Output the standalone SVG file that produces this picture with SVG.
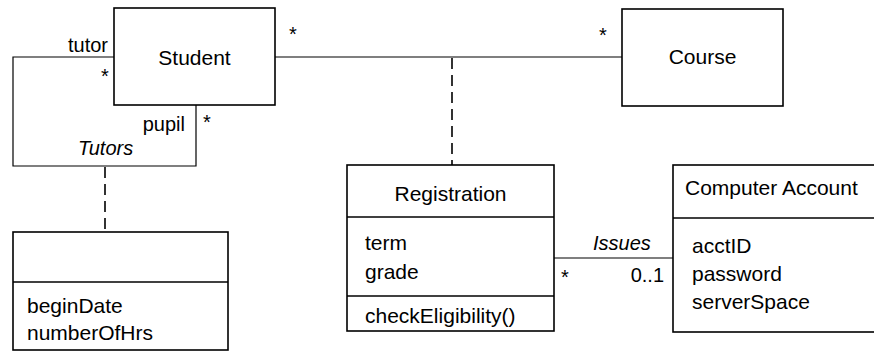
<svg xmlns="http://www.w3.org/2000/svg" width="874" height="362" viewBox="0 0 874 362">
<style>
.box{fill:#fff;stroke:#000;stroke-width:1.6}
.div{stroke:#000;stroke-width:1.3}
.ln{fill:none;stroke:#000;stroke-width:1.2}
.dash{fill:none;stroke:#000;stroke-width:1.6;stroke-dasharray:11 6}
text{font-family:"Liberation Sans",Arial,sans-serif;font-size:21px;fill:#000}
.lbl{font-size:20px}
.it{font-style:italic;font-size:20px}
.mid{text-anchor:middle}
.end{text-anchor:end}
</style>
<rect width="874" height="362" fill="#fff"/>
<g id="connectors">
<line class="ln" x1="275" y1="57" x2="622" y2="57"/>
<line class="dash" x1="452" y1="58" x2="452" y2="165"/>
<polyline class="ln" points="114,57 13,57 13,166 196,166 196,105"/>
<line class="dash" x1="105" y1="167" x2="105" y2="232"/>
<line class="ln" x1="554" y1="258" x2="673" y2="258"/>
<text class="lbl end" x="108" y="52">tutor</text>
<text class="lbl mid" x="105" y="83">*</text>
<text class="lbl end" x="185" y="131">pupil</text>
<text class="lbl mid" x="207" y="129">*</text>
<text class="it" x="78" y="155">Tutors</text>
<text class="lbl mid" x="293" y="41">*</text>
<text class="lbl mid" x="603" y="42">*</text>
<text class="it" x="593" y="250">Issues</text>
<text class="lbl mid" x="565" y="284">*</text>
<text class="lbl end" x="664" y="282">0..1</text>
</g>
<g id="student">
<rect class="box" x="114" y="8" width="161" height="97"/>
<text class="mid" x="194.5" y="65">Student</text>
</g>
<g id="course">
<rect class="box" x="622" y="9" width="161" height="97"/>
<text class="mid" x="702.5" y="64">Course</text>
</g>
<g id="tutors-class">
<rect class="box" x="13" y="232" width="215" height="118"/>
<line class="div" x1="13" y1="282" x2="228" y2="282"/>
<text x="27" y="313">beginDate</text>
<text x="27" y="340">numberOfHrs</text>
</g>
<g id="registration">
<rect class="box" x="347" y="165" width="207" height="166"/>
<line class="div" x1="347" y1="217" x2="554" y2="217"/>
<line class="div" x1="347" y1="296" x2="554" y2="296"/>
<text class="mid" x="450.5" y="201">Registration</text>
<text x="365" y="250">term</text>
<text x="365" y="279">grade</text>
<text x="365" y="323">checkEligibility()</text>
</g>
<g id="computer-account">
<rect class="box" x="673" y="165" width="210" height="167"/>
<line class="div" x1="673" y1="218" x2="883" y2="218"/>
<text x="685" y="195">Computer Account</text>
<text x="692" y="253">acctID</text>
<text x="692" y="281">password</text>
<text x="692" y="309">serverSpace</text>
</g>
</svg>
